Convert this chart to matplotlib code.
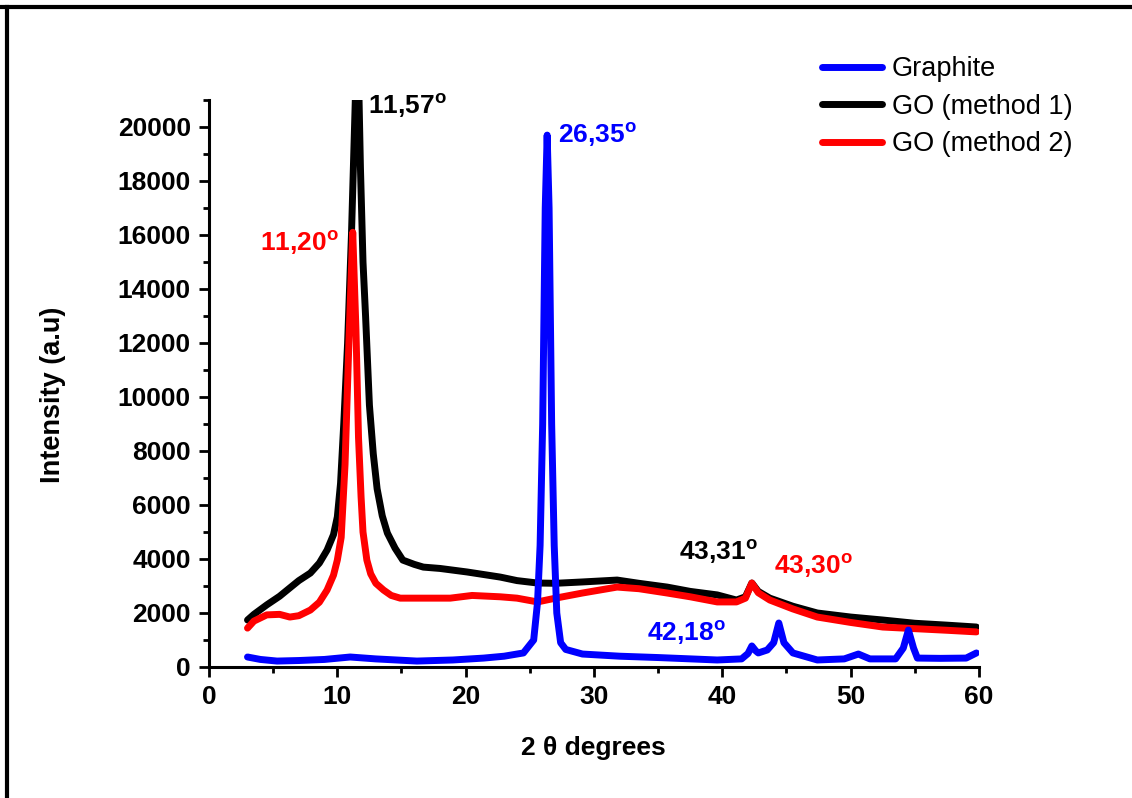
import matplotlib.pyplot as plt
from matplotlib.ticker import MultipleLocator
from matplotlib.lines import Line2D

# XRD patterns (2 theta in degrees, intensity in a.u.)
go1_x = [3.0, 3.5, 4.5, 5.5, 6.3, 7.0, 7.9, 8.6, 9.2, 9.7, 10.0, 10.25, 10.5, 10.8, 11.1, 11.4,
         11.5, 11.65, 11.8, 12.0, 12.2, 12.5, 12.8, 13.1, 13.5, 13.9, 14.5, 15.1, 16.0, 16.7,
         18.0, 20.1, 22.7, 24.0, 25.6, 27.0, 29.1, 31.8, 33.5, 35.7, 37.5, 39.6, 41.1, 41.8,
         42.3, 42.8, 43.7, 45.5, 47.4, 50.0, 52.5, 55.0, 57.5, 59.8]
go1_y = [1740, 1950, 2300, 2620, 2930, 3200, 3480, 3850, 4330, 4900, 5560, 6800, 9000, 12000, 16000, 21000,
         22000, 22000, 18500, 15000, 13000, 9700, 7900, 6600, 5600, 4960, 4400, 3960, 3800, 3700,
         3650, 3520, 3330, 3200, 3110, 3100, 3150, 3220, 3100, 2960, 2800, 2670, 2480, 2600,
         3110, 2800, 2550, 2250, 2000, 1850, 1740, 1620, 1550, 1480]

go2_x = [3.0, 3.5, 4.5, 5.5, 6.3, 7.0, 7.9, 8.6, 9.2, 9.7, 10.0, 10.3, 10.6, 10.9, 11.2, 11.45,
         11.65, 11.85, 12.0, 12.3, 12.6, 13.0, 13.6, 14.2, 14.9, 16.5, 18.8, 20.5, 22.7, 24.0,
         25.6, 27.0, 29.1, 31.8, 33.5, 35.7, 37.5, 39.6, 41.1, 41.8, 42.3, 42.8, 43.7, 45.5,
         47.4, 50.0, 52.5, 55.0, 57.5, 59.8]
go2_y = [1440, 1700, 1930, 1950, 1850, 1900, 2110, 2400, 2850, 3400, 3960, 4800, 7500, 12000, 16100, 12500,
         8500, 6300, 5000, 3960, 3450, 3100, 2850, 2650, 2550, 2550, 2550, 2650, 2600, 2550,
         2410, 2550, 2740, 2960, 2900, 2740, 2600, 2410, 2410, 2550, 3110, 2750, 2480, 2150,
         1850, 1650, 1480, 1420, 1360, 1300]

graphite_x = [3.0, 4.0, 5.3, 7.0, 9.0, 11.0, 13.0, 16.2, 19.0, 21.4, 23.0, 24.5, 25.3, 25.6, 25.8,
              26.0, 26.2, 26.35, 26.5, 26.7, 26.9, 27.1, 27.4, 27.8, 29.1, 32.0, 35.0, 39.6, 41.5,
              42.0, 42.3, 42.6, 42.8, 43.5, 44.0, 44.4, 44.8, 45.5, 47.4, 49.5, 50.6, 51.5, 53.5,
              54.1, 54.5, 54.9, 55.2, 57.0, 59.0, 59.8]
graphite_y = [370, 280, 220, 240, 280, 370, 300, 220, 260, 330, 400, 520, 1000, 2400, 4500,
              9000, 17000, 19700, 17000, 9000, 4500, 2000, 900, 650, 480, 400, 350, 260, 300,
              500, 780, 600, 520, 630, 900, 1630, 900, 520, 260, 300, 480, 300, 300,
              700, 1370, 700, 330, 320, 330, 520]

# peak labels: text, x, y, colour
peak_text = ["11,57", "26,35", "11,20", "43,31", "43,30", "42,18"]
peak_x = [12.4, 27.2, 4.0, 36.6, 44.0, 34.1]
peak_y = [20800, 19700, 15700, 4260, 3740, 1260]
peak_col = ["black", "blue", "red", "black", "red", "blue"]

plt.rcParams["font.family"] = ["Liberation Sans", "DejaVu Sans"]
plt.rcParams["mathtext.fontset"] = "custom"
plt.rcParams["mathtext.rm"] = "Liberation Sans"
plt.rcParams["mathtext.bf"] = "Liberation Sans:bold"

fig = plt.figure(figsize=(11.32, 7.98), dpi=100)
ax = fig.add_axes([209 / 1132, 1 - 667 / 798, 770 / 1132, 567 / 798])

ax.plot(go1_x, go1_y, color="black", lw=5, label="GO (method 1)", solid_capstyle="round", zorder=2)
ax.plot(go2_x, go2_y, color="red", lw=5, label="GO (method 2)", solid_capstyle="round", zorder=3)
ax.plot(graphite_x, graphite_y, color="blue", lw=5, label="Graphite", solid_capstyle="round", zorder=4)

for t, x, y, c in zip(peak_text, peak_x, peak_y, peak_col):
    ax.text(x, y, t + r"$^{\mathbf{o}}$", color=c, fontsize=19, fontweight="bold",
            ha="left", va="center")

ax.set_xlim(0, 60)
ax.set_ylim(0, 21000)
ax.xaxis.set_major_locator(MultipleLocator(10))
ax.xaxis.set_minor_locator(MultipleLocator(5))
ax.yaxis.set_major_locator(MultipleLocator(2000))
ax.yaxis.set_minor_locator(MultipleLocator(1000))
ax.spines["top"].set_visible(False)
ax.spines["right"].set_visible(False)
for s in ["left", "bottom"]:
    ax.spines[s].set_linewidth(2.2)
ax.tick_params(which="major", direction="out", length=7, width=2, pad=6, labelsize=19)
ax.tick_params(which="minor", direction="out", length=4.5, width=2)
for lab in ax.get_xticklabels() + ax.get_yticklabels():
    lab.set_fontweight("bold")

ax.set_ylabel("Intensity (a.u)", fontsize=19.5, fontweight="bold")
ax.set_xlabel("2 θ degrees", fontsize=19, fontweight="bold")
ax.yaxis.set_label_coords(-0.186, 0.48)
ax.xaxis.set_label_coords(0.499, -0.122)

handles, labels = ax.get_legend_handles_labels()
order = [2, 0, 1]
fig.legend([handles[i] for i in order], [labels[i] for i in order],
           loc="upper left", bbox_to_anchor=(822 / 1132, 1 - 56 / 798),
           frameon=False, fontsize=19.5, handlelength=2.2, handletextpad=0.38,
           labelspacing=0.43, borderpad=0, borderaxespad=0)

# frame lines along top and left edge of the picture
fig.add_artist(Line2D([0, 1], [1 - 7 / 798, 1 - 7 / 798], color="black", lw=3, transform=fig.transFigure))
fig.add_artist(Line2D([7 / 1132, 7 / 1132], [0, 1 - 7 / 798], color="black", lw=3, transform=fig.transFigure))

fig.savefig("out.png", dpi=100)
